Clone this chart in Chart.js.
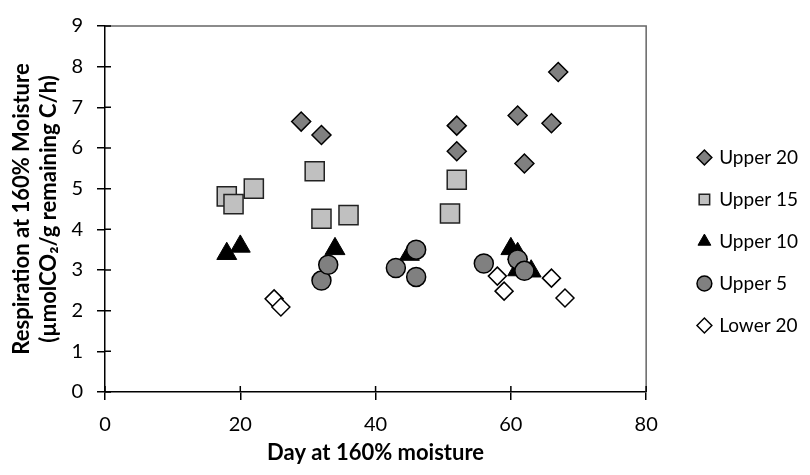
<!DOCTYPE html>
<html>
<head>
<meta charset="utf-8">
<script src="https://cdn.jsdelivr.net/npm/chart.js@4.4.1/dist/chart.umd.min.js"></script>
<style>
  html, body { margin: 0; padding: 0; background: #fff; }
  #wrap { width: 810px; height: 475px; }
</style>
</head>
<body>
<div id="wrap"><canvas id="c" width="810" height="475"></canvas></div>
<script>
// Data
const upper20X = [29, 32, 52, 52, 61, 62, 66, 67];
const upper20Y = [6.65, 6.32, 6.55, 5.92, 6.80, 5.62, 6.61, 7.87];
const upper15X = [18, 19, 22, 31, 32, 36, 51, 52];
const upper15Y = [4.81, 4.62, 5.00, 5.43, 4.26, 4.35, 4.39, 5.22];
const upper10X = [18, 20, 34, 45, 60, 61, 61, 63];
const upper10Y = [3.40, 3.58, 3.52, 3.38, 3.52, 3.40, 3.00, 2.97];
const upper5X  = [32, 33, 43, 46, 46, 56, 61, 62];
const upper5Y  = [2.74, 3.13, 3.05, 3.50, 2.83, 3.16, 3.26, 2.98];
const lower20X = [25, 26, 58, 59, 66, 68];
const lower20Y = [2.29, 2.09, 2.85, 2.48, 2.80, 2.31];
const seriesNames = ['Upper 20', 'Upper 15', 'Upper 10', 'Upper 5', 'Lower 20'];
const xTicks = [0, 20, 40, 60, 80];
const yTicks = [0, 1, 2, 3, 4, 5, 6, 7, 8, 9];

const pts = (xs, ys) => xs.map((x, i) => ({ x: x, y: ys[i] }));
const FONT = "Lato, 'Open Sans', 'Liberation Sans', sans-serif";

const framePlugin = {
  id: 'frame',
  beforeDatasetsDraw(chart) {
    const a = chart.chartArea, ctx = chart.ctx;
    ctx.save();
    ctx.strokeStyle = '#666';
    ctx.lineWidth = 1.5;
    ctx.beginPath();
    ctx.moveTo(a.left, a.top);
    ctx.lineTo(a.right, a.top);
    ctx.lineTo(a.right, a.bottom);
    ctx.stroke();
    // inner half of tick marks (ticks cross the axes)
    ctx.strokeStyle = '#000';
    ctx.lineWidth = 1.5;
    const xs = chart.scales.x, ys = chart.scales.y;
    ctx.beginPath();
    xTicks.forEach(v => { const p = xs.getPixelForValue(v); ctx.moveTo(p, a.bottom); ctx.lineTo(p, a.bottom - 6); });
    yTicks.forEach(v => { const p = ys.getPixelForValue(v); ctx.moveTo(a.left, p); ctx.lineTo(a.left + 6, p); });
    ctx.stroke();
    ctx.restore();
  }
};

new Chart(document.getElementById('c'), {
  type: 'scatter',
  data: {
    datasets: [
      { label: seriesNames[0], data: pts(upper20X, upper20Y), pointStyle: 'rectRot', pointRadius: 9.5, pointHoverRadius: 9.5,
        backgroundColor: '#808080', borderColor: '#000', borderWidth: 1.5, order: 5 },
      { label: seriesNames[1], data: pts(upper15X, upper15Y), pointStyle: 'rect', pointRadius: 13.5, pointHoverRadius: 13.5,
        backgroundColor: '#c0c0c0', borderColor: '#222', borderWidth: 1.5, order: 4 },
      { label: seriesNames[2], data: pts(upper10X, upper10Y), pointStyle: 'triangle', pointRadius: 11.5, pointHoverRadius: 11.5,
        backgroundColor: '#000', borderColor: '#000', borderWidth: 1, order: 3 },
      { label: seriesNames[3], data: pts(upper5X, upper5Y), pointStyle: 'circle', pointRadius: 9.5, pointHoverRadius: 9.5,
        backgroundColor: '#808080', borderColor: '#000', borderWidth: 1.5, order: 2 },
      { label: seriesNames[4], data: pts(lower20X, lower20Y), pointStyle: 'rectRot', pointRadius: 9, pointHoverRadius: 9,
        backgroundColor: '#fff', borderColor: '#000', borderWidth: 1.5, order: 1 }
    ]
  },
  options: {
    responsive: false,
    devicePixelRatio: 1,
    animation: false,
    layout: { padding: { top: 18, right: 2, bottom: 10, left: 0 } },
    plugins: {
      tooltip: { enabled: false },
      legend: {
        position: 'right',
        labels: {
          usePointStyle: true,
          boxHeight: 10.5,
          boxWidth: 10.5,
          padding: 23,
          color: '#000',
          font: { family: FONT, size: 19 },
          sort: (a, b) => a.datasetIndex - b.datasetIndex
        }
      }
    },
    scales: {
      x: {
        type: 'linear', min: 0, max: 80,
        ticks: { stepSize: 20, color: '#000', font: { family: FONT, size: 20 }, padding: 13 },
        grid: { drawOnChartArea: false, drawTicks: true, tickLength: 8, color: '#000', lineWidth: 1.5 },
        border: { color: '#000', width: 1.5 },
        title: { display: true, text: 'Day at 160% moisture', color: '#000',
                 font: { family: FONT, size: 22, weight: 'bold', lineHeight: 1.1 }, padding: { top: 0, bottom: 0 } },
        afterFit: (axis) => { axis.height = 73; }
      },
      y: {
        type: 'linear', min: 0, max: 9,
        ticks: { stepSize: 1, color: '#000', font: { family: FONT, size: 20 }, padding: 14 },
        grid: { drawOnChartArea: false, drawTicks: true, tickLength: 8, color: '#000', lineWidth: 1.5 },
        border: { color: '#000', width: 1.5 },
        title: { display: true, text: ['Respiration at 160% Moisture', '(µmolCO₂/g remaining C/h)'], color: '#000',
                 font: { family: FONT, size: 22, weight: 'bold', lineHeight: 1.2 }, padding: { top: 9, bottom: 0 } },
        afterFit: (axis) => { axis.width = 105; }
      },
      gap: {
        type: 'linear', position: 'right', display: true,
        ticks: { display: false }, grid: { display: false }, border: { display: false },
        afterFit: (axis) => { axis.width = 30; }
      }
    }
  },
  plugins: [framePlugin]
});
</script>
</body>
</html>
